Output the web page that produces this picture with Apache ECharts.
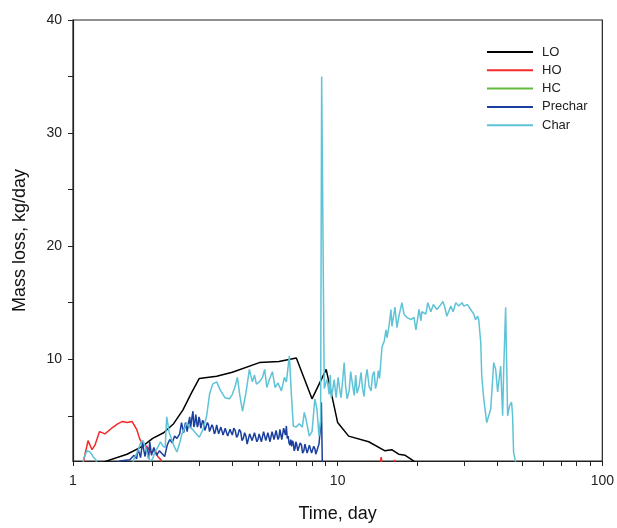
<!DOCTYPE html>
<html>
<head>
<meta charset="utf-8">
<script src="https://cdn.jsdelivr.net/npm/echarts@6/dist/echarts.min.js"></script>
<style>
  html, body { margin: 0; padding: 0; background: #fff; }
  #main { width: 617px; height: 528px; }
</style>
</head>
<body>
<div id="main"></div>
<script>
// series names and data as [time (day), mass loss (kg/day)]
var seriesNames = ['LO', 'HO', 'HC', 'Prechar', 'Char'];

var loData = [[1.30,0.9],[1.6,1.6],[1.83,2.3],[2.0,3.0],[2.2,3.5],[2.4,4.3],[2.6,5.5],[2.8,7.0],[3.0,8.3],
  [3.49,8.5],[4.0,8.85],[5.06,9.7],[6.0,9.8],[6.98,10.1],[8.0,6.5],[9.05,9.1],[10.0,4.4],[11.0,3.2],
  [13.1,2.7],[15.1,1.9],[16.0,2.0],[17.0,1.6],[18.0,1.5],[19.1,1.1],[19.6,0.9]];

var hoData = [[1.08,0],[1.11,1.6],[1.14,2.8],[1.18,2.0],[1.21,2.4],[1.26,3.6],[1.32,3.4],[1.40,3.9],
  [1.48,4.3],[1.54,4.5],[1.60,4.4],[1.67,4.5],[1.74,3.8],[1.79,2.9],[1.84,2.5],[1.90,2.3],[1.98,1.7],
  [2.04,2.0],[2.09,1.4],[2.15,1.1],[2.2,0],[14.3,0],[14.6,1.35],[14.9,0],[16.2,0],[16.4,1.1],[16.6,0]];

var hcData = [[1.0,0],[100,0]];

var precharData = [[1.35,0],[1.5,1.0],[1.64,1.1],[1.70,1.5],[1.74,1.2],[1.76,2.1],[1.80,1.3],[1.83,2.6],
  [1.87,1.4],[1.90,2.2],[1.93,1.2],[1.95,2.7],[1.98,1.5],[2.02,2.2],[2.07,1.5],[2.12,1.9],[2.18,1.6],
  [2.22,1.4],[2.27,2.4],[2.32,2.9],[2.37,2.6],[2.42,3.2],[2.47,3.0],[2.53,3.4],[2.57,4.4],[2.62,3.5],
  [2.66,4.4],[2.70,3.6],[2.73,4.3],[2.76,4.9],[2.78,3.9],[2.80,4.0],[2.82,5.0],[2.84,5.4],[2.86,4.0],
  [2.88,4.2],[2.91,5.1],[2.93,5.0],[2.95,4.0],[2.97,4.2],[2.99,4.9],[3.01,4.7],[3.04,3.9],[3.06,4.0],
  [3.09,4.6],[3.12,4.4],[3.15,3.7],[3.18,3.8],[3.22,4.4],[3.25,4.2],[3.28,3.6],[3.31,3.7],[3.35,4.2],
  [3.38,4.0],[3.42,3.4],[3.45,3.6],[3.49,4.2],[3.52,4.1],[3.55,3.4],[3.58,3.5],[3.62,4.0],[3.65,3.9],
  [3.69,3.3],[3.72,3.4],[3.76,3.9],[3.80,3.8],[3.84,3.2],[3.88,3.3],[3.92,3.8],[3.95,3.6],[4.0,3.3],
  [4.05,3.9],[4.1,3.7],[4.15,3.1],[4.2,3.3],[4.25,3.8],[4.3,3.6],[4.35,2.8],[4.4,3.0],[4.45,3.5],
  [4.5,3.2],[4.55,2.5],[4.6,2.6],[4.65,3.4],[4.7,3.3],[4.75,2.8],[4.8,2.9],[4.85,3.5],[4.9,3.4],
  [4.95,2.7],[5.0,2.9],[5.05,3.4],[5.1,3.3],[5.15,2.7],[5.2,2.8],[5.25,3.6],[5.3,3.5],[5.35,2.8],
  [5.4,2.9],[5.45,3.5],[5.5,3.4],[5.55,2.7],[5.6,2.8],[5.65,3.6],[5.7,3.5],[5.75,2.9],[5.8,3.0],
  [5.85,3.7],[5.9,3.6],[5.95,2.9],[6.0,3.1],[6.05,3.8],[6.1,3.7],[6.15,2.9],[6.2,3.0],[6.25,3.9],
  [6.3,3.8],[6.35,3.3],[6.4,4.1],[6.45,3.0],[6.5,3.2],[6.55,2.6],[6.6,2.4],[6.65,2.9],[6.7,2.3],
  [6.75,2.8],[6.8,2.6],[6.85,1.9],[6.9,2.1],[6.95,2.7],[7.0,2.5],[7.07,1.9],[7.15,2.0],[7.22,2.6],
  [7.3,2.4],[7.37,1.7],[7.45,1.9],[7.52,2.5],[7.6,2.4],[7.67,1.7],[7.75,1.8],[7.82,2.4],[7.9,2.3],
  [7.97,1.7],[8.05,1.8],[8.12,2.3],[8.2,2.1],[8.27,1.6],[8.35,1.7],[8.42,2.2],[8.5,2.5],[8.6,3.8],
  [8.68,6.2],[8.76,0]];

var charData = [[1.07,0],[1.10,1.3],[1.13,1.9],[1.16,1.8],[1.19,1.4],[1.22,1.1],[1.26,0],
  [1.65,0],[1.70,1.2],[1.76,1.9],[1.80,2.6],[1.84,2.8],[1.88,2.2],[1.92,1.4],[1.96,1.0],[2.0,1.2],
  [2.04,1.8],[2.09,2.2],[2.14,2.7],[2.19,2.3],[2.23,2.2],[2.26,4.9],[2.31,3.5],[2.36,2.9],[2.42,2.2],
  [2.47,1.8],[2.53,2.6],[2.58,3.4],[2.65,4.0],[2.69,4.4],[2.76,4.0],[2.83,3.8],[2.92,3.4],[3.0,3.1],
  [3.1,3.8],[3.2,5.0],[3.28,6.9],[3.37,7.8],[3.49,8.0],[3.58,7.4],[3.64,7.1],[3.75,6.6],[3.9,6.5],
  [4.0,6.9],[4.1,7.6],[4.18,8.4],[4.27,6.8],[4.37,5.4],[4.5,7.0],[4.64,9.1],[4.76,8.0],[4.85,8.6],
  [4.93,7.8],[5.06,8.0],[5.2,8.4],[5.3,9.1],[5.4,7.5],[5.52,8.2],[5.67,8.9],[5.8,7.5],[5.95,7.9],
  [6.13,7.2],[6.29,8.4],[6.4,8.0],[6.57,10.3],[6.7,6.5],[6.80,4.1],[6.98,4.0],[7.15,4.3],[7.35,4.0],
  [7.48,5.3],[7.61,4.6],[7.81,3.2],[8.0,3.6],[8.2,6.5],[8.35,5.6],[8.5,3.2],[8.62,4.5],[8.70,35.0],
  [8.90,7.4],[9.05,8.0],[9.13,8.2],[9.29,6.9],[9.38,8.6],[9.45,6.6],[9.55,7.1],[9.70,8.2],[9.87,6.6],
  [10.04,8.4],[10.17,7.4],[10.3,6.6],[10.45,8.2],[10.58,9.7],[10.72,7.6],[10.86,6.5],[11.05,7.2],
  [11.2,8.9],[11.34,8.0],[11.55,6.8],[11.7,8.6],[11.84,7.0],[12.05,7.6],[12.26,8.85],[12.42,7.4],
  [12.58,6.7],[12.75,8.3],[12.92,9.1],[13.14,7.6],[13.37,7.2],[13.55,8.6],[13.73,8.9],[13.9,7.4],
  [14.09,8.0],[14.25,9.0],[14.4,8.3],[14.58,10.0],[14.71,11.1],[15.0,11.6],[15.23,12.6],[15.36,11.9],
  [15.63,12.9],[15.9,14.4],[16.04,12.9],[16.47,14.6],[16.75,12.8],[17.1,14.0],[17.34,14.6],[17.49,15.0],
  [17.8,14.0],[18.27,13.7],[18.9,13.5],[19.42,13.7],[19.76,12.6],[20.3,14.4],[20.64,13.4],[20.8,14.2],
  [21.54,14.0],[21.9,15.0],[22.5,14.2],[23.0,14.85],[23.7,14.4],[24.3,14.7],[25.0,15.1],[25.4,14.6],
  [25.85,13.8],[26.77,14.7],[27.3,14.2],[27.95,15.0],[28.7,14.7],[29.5,15.0],[30.0,14.7],[30.9,14.85],
  [31.8,14.4],[32.67,14.0],[33.2,13.5],[33.8,13.8],[34.12,13.5],[34.72,11.5],
  [35.03,8.5],[35.64,6.5],[36.58,4.4],[37.22,4.3],[37.87,5.6],[38.87,9.7],[39.54,9.1],[40.23,7.1],
  [41.29,9.4],[42.01,5.0],[42.38,8.85],[43.12,14.6],[43.87,5.0],[44.64,5.9],[45.41,6.2],[45.81,5.0],
  [46.2,1.8],[47.0,0.9],[47.5,0]];

var seriesData = [loData, hoData, hcData, precharData, charData];
var colors = ['#000000', '#f52a2a', '#62bb3a', '#1a3f9e', '#5ec3d6'];

// axis ticks and labels
var xLabelValues = [1, 10, 100];
var xTickValues = [1, 2, 3, 4, 5, 6, 7, 8, 9, 10, 20, 30, 40, 50, 60, 70, 80, 90, 100];
var yLabelValues = [10, 20, 30, 40];
var yTickValues = [5, 10, 15, 20, 25, 30, 35, 40];

var font = 'Liberation Sans, Arial, sans-serif';
var myChart = echarts.init(document.getElementById('main'));

var option = {
    animation: false,
    color: colors,
    grid: {
        left: 73, right: 13, top: 20, bottom: 66,
        show: true, borderColor: '#222', borderWidth: 1.2, backgroundColor: 'transparent'
    },
    legend: {
        orient: 'vertical',
        left: 482, top: 40,
        icon: 'rect',
        itemWidth: 46, itemHeight: 2,
        itemGap: 4.3,
        textStyle: { fontFamily: font, fontSize: 13, color: '#222', lineHeight: 14, padding: [0, 0, 0, 4] },
        data: seriesNames
    },
    xAxis: {
        type: 'log', logBase: 10, min: 1, max: 100,
        name: 'Time, day', nameLocation: 'middle', nameGap: 44,
        nameTextStyle: { fontFamily: font, fontSize: 18, color: '#111' },
        axisLine: { lineStyle: { color: '#222', width: 1.2 } },
        axisTick: { length: 5, customValues: xTickValues, lineStyle: { color: '#222' } },
        axisLabel: { customValues: xLabelValues, margin: 13, fontFamily: font, fontSize: 14, color: '#222' },
        splitLine: { show: false }
    },
    yAxis: {
        type: 'value', min: 1, max: 40,
        name: 'Mass loss, kg/day', nameLocation: 'middle', nameGap: 44,
        nameTextStyle: { fontFamily: font, fontSize: 18, color: '#111' },
        axisLine: { show: true, lineStyle: { color: '#222', width: 1.2 } },
        axisTick: { show: true, length: 5, customValues: yTickValues, lineStyle: { color: '#222' } },
        axisLabel: { customValues: yLabelValues, margin: 11, fontFamily: font, fontSize: 14, color: '#222' },
        splitLine: { show: false }
    },
    series: seriesNames.map(function (name, i) {
        return {
            name: name,
            type: 'line',
            data: seriesData[i],
            showSymbol: false,
            symbol: 'none',
            clip: true,
            lineStyle: { width: 1.5, color: colors[i] },
            z: i === 4 ? 3 : 2
        };
    })
};
myChart.setOption(option);
</script>
</body>
</html>
